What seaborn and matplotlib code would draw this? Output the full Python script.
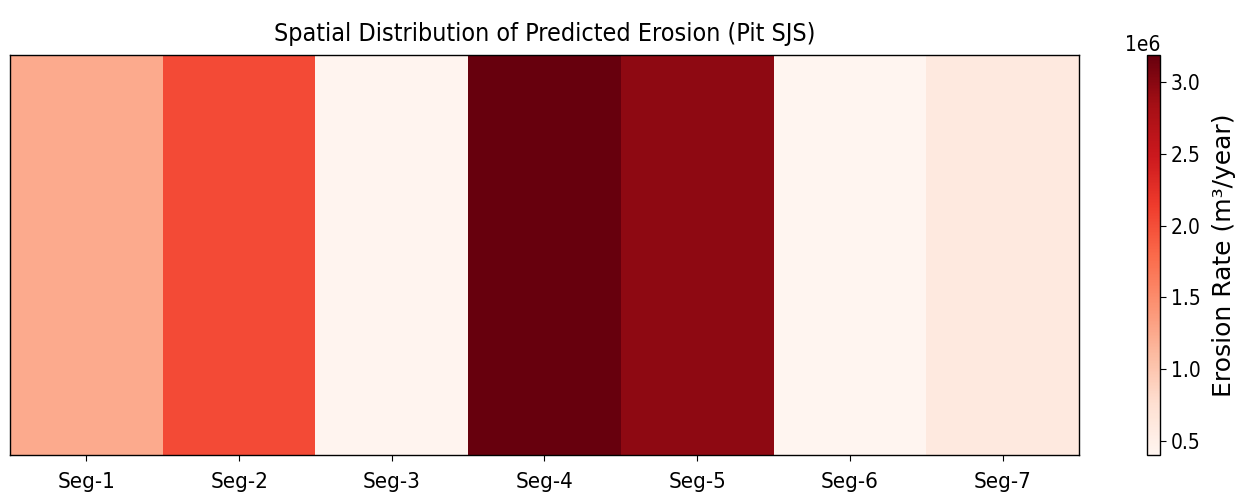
import matplotlib
matplotlib.use('Agg')
import matplotlib.pyplot as plt
import seaborn as sns
import pandas as pd
import numpy as np

plt.rcParams['font.family'] = ['DejaVu Sans']
plt.rcParams['font.stretch'] = 'condensed'

# 구간별 예측 침식률 (m³/year)
segments = ['Seg-1', 'Seg-2', 'Seg-3', 'Seg-4', 'Seg-5', 'Seg-6', 'Seg-7']
erosion = [1.25e6, 2.03e6, 0.42e6, 3.19e6, 2.97e6, 0.40e6, 0.60e6]

df = pd.DataFrame([erosion], columns=segments)

fig = plt.figure(figsize=(12.37, 4.97), dpi=100)
ax = fig.add_axes([10 / 1237, 42 / 497, 1069 / 1237, 400 / 497])
cax = fig.add_axes([1147 / 1237, 42 / 497, 13 / 1237, 400 / 497])

sns.heatmap(df, cmap='Reds', ax=ax, cbar_ax=cax, yticklabels=False)

for s in ax.spines.values():
    s.set_visible(True)
    s.set_linewidth(1.0)
ax.tick_params(axis='x', length=4.5, labelsize=16, rotation=0, pad=8)
ax.tick_params(axis='y', length=0)
ax.set_title('Spatial Distribution of Predicted Erosion (Pit SJS)', fontsize=18, pad=10)

cb = ax.collections[0].colorbar
cb.outline.set_visible(True)
cb.outline.set_linewidth(1.0)
cb.ax.tick_params(labelsize=15, length=4.5)
cb.set_label('Erosion Rate (m³/year)', fontsize=18, fontstretch='normal', labelpad=8)
cb.ax.yaxis.get_offset_text().set_fontsize(15)

fig.savefig('out.png', dpi=100)
